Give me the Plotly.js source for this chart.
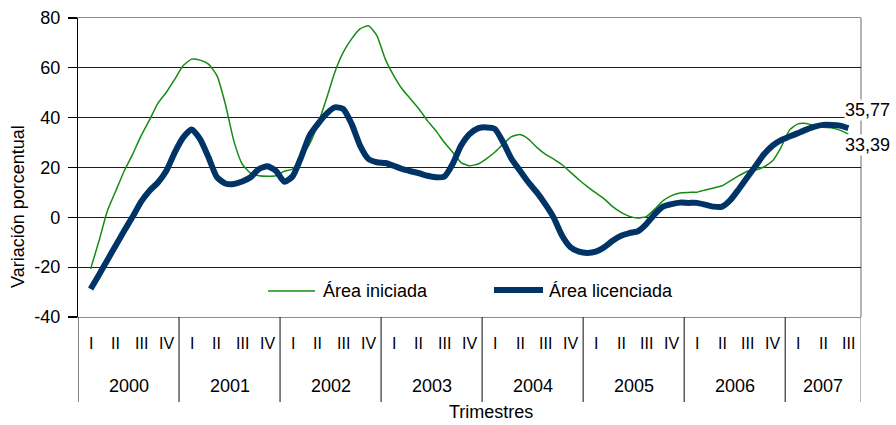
<!DOCTYPE html>
<html>
<head>
<meta charset="utf-8">
<script src="https://cdn.plot.ly/plotly-3.0.1.min.js"></script>
<style>
html,body{margin:0;padding:0;background:#fff;}
#chart{width:896px;height:425px;}
</style>
</head>
<body>
<div id="chart"></div>
<script>
// Tick / category labels
var quarterNames = ['I', 'II', 'III', 'IV'];
var years = ['2000', '2001', '2002', '2003', '2004', '2005', '2006', '2007'];
var quartersPerYear = [4, 4, 4, 4, 4, 4, 4, 3];
var yTicks = [-40, -20, 0, 20, 40, 60, 80];

// Series (monthly readings, Q1 2000 ... Q3 2007), variación porcentual
var areaIniciada = [
  -20.7, -9.4, 2.7, 10.7, 18.7, 25.4, 32.8, 39.1, 45.8, 50.2, 55.5, 60.9,
  63.5, 63.1, 61.5, 56.9, 45.5, 30.8, 21.4, 17.7, 16.7, 16.5, 16.7, 18.5,
  19.4, 24.1, 29.4, 37.5, 47.5, 58.2, 66.2, 71.6, 75.6, 76.9, 72.9, 63.5,
  56.9, 51.5, 47.5, 43.5, 38.8, 34.8, 30.1, 26.1, 22.0, 20.7, 21.4, 23.5,
  26.1, 29.4, 32.4, 33.2, 31.4, 28.1, 25.4, 23.4, 21.1, 18.1, 15.1, 12.3,
  9.8, 7.4, 4.3, 2.0, 0.4, -0.3, 0.3, 3.3, 6.7, 8.7, 9.8, 10.0,
  10.1, 11.0, 11.8, 12.7, 14.7, 16.7, 18.5, 19.0, 20.3, 22.7, 28.1, 35.0,
  37.5, 37.7, 36.8, 36.1, 35.9, 35.0, 33.39
];
var areaLicenciada = [
  -28.8, -23.0, -17.1, -11.2, -5.3, 0.3, 6.3, 10.7, 14.0, 18.7, 26.1, 32.1,
  35.3, 31.4, 24.1, 16.1, 13.6, 13.4, 14.4, 16.1, 19.4, 20.5, 18.7, 14.3,
  16.5, 24.1, 32.8, 37.5, 41.5, 44.1, 43.5, 37.5, 28.8, 23.4, 22.1, 21.8,
  20.7, 19.4, 18.5, 17.7, 16.7, 16.1, 16.3, 21.4, 28.8, 33.4, 35.7, 36.1,
  35.5, 30.1, 23.4, 18.7, 14.0, 10.0, 5.3, -0.1, -7.4, -12.0, -13.8, -14.3,
  -13.8, -12.0, -9.4, -7.4, -6.3, -5.6, -2.7, 1.3, 4.3, 5.3, 5.9, 5.8,
  5.8, 5.1, 4.3, 4.3, 7.0, 11.4, 16.1, 20.7, 25.4, 28.8, 31.0, 32.4,
  33.8, 35.2, 36.4, 37.1, 37.1, 36.8, 35.77
];
var seriesNames = ['Área iniciada', 'Área licenciada'];
var lastLabels = ['33,39', '35,77'];

var GREEN = '#148c14';
var NAVY = '#003366';
var FONT = 'Liberation Sans, Arial, sans-serif';

var xIdx = areaIniciada.map(function (_, i) { return i; });
var nQuarters = quartersPerYear.reduce(function (a, b) { return a + b; }, 0);
var xMin = -1.5, xMax = nQuarters * 3 - 1.5;

var traces = [
  { x: xIdx, y: areaIniciada, type: 'scatter', mode: 'lines', name: seriesNames[0],
    line: { color: GREEN, width: 1.5, shape: 'spline', smoothing: 0.5 }, showlegend: false, hoverinfo: 'x+y' },
  { x: xIdx, y: areaLicenciada, type: 'scatter', mode: 'lines', name: seriesNames[1],
    line: { color: NAVY, width: 6, shape: 'spline', smoothing: 0.6 }, showlegend: false, hoverinfo: 'x+y' }
];

var plotTop = 18, plotBottom = 317, plotLeft = 78, plotRight = 861;
var plotH = plotBottom - plotTop, plotW = plotRight - plotLeft;
function py(px) { return (plotBottom - px) / plotH; }
function pxX(px) { return (px - plotLeft) / plotW; }

var shapes = [];
var annotations = [];

// Right border (gray)
shapes.push({ type: 'line', xref: 'paper', yref: 'paper', x0: 1, x1: 1, y0: 0, y1: 1,
  line: { color: '#8c8c8c', width: 1.3 }, layer: 'below' });

// Category axis: year separators and labels
var qStart = 0;
for (var yi = 0; yi < years.length; yi++) {
  var x0 = qStart * 3 - 1.5;
  shapes.push({ type: 'line', xref: 'x', yref: 'paper', x0: x0, x1: x0, y0: 0, y1: py(402),
    line: { color: '#333', width: 1.2 } });
  for (var q = 0; q < quartersPerYear[yi]; q++) {
    annotations.push({ xref: 'x', yref: 'paper', x: (qStart + q) * 3, y: py(343),
      text: quarterNames[q], showarrow: false, xanchor: 'center', yanchor: 'middle',
      font: { family: FONT, size: 16, color: '#000' } });
  }
  var xEnd = (qStart + quartersPerYear[yi]) * 3 - 1.5;
  annotations.push({ xref: 'x', yref: 'paper', x: (x0 + xEnd) / 2, y: py(386),
    text: years[yi], showarrow: false, xanchor: 'center', yanchor: 'middle',
    font: { family: FONT, size: 18, color: '#000' } });
  qStart += quartersPerYear[yi];
}
shapes.push({ type: 'line', xref: 'x', yref: 'paper', x0: xMax, x1: xMax, y0: 0, y1: py(402),
  line: { color: '#8c8c8c', width: 1.2 } });

// Axis titles
annotations.push({ xref: 'paper', yref: 'paper', x: pxX(491), y: py(412), text: 'Trimestres',
  showarrow: false, xanchor: 'center', yanchor: 'middle', font: { family: FONT, size: 18, color: '#000' } });
annotations.push({ xref: 'paper', yref: 'paper', x: pxX(18), y: py(207), text: 'Variación porcentual',
  textangle: -90, showarrow: false, xanchor: 'center', yanchor: 'middle',
  font: { family: FONT, size: 18, color: '#000' } });

// Legend (inside plot)
shapes.push({ type: 'line', xref: 'paper', yref: 'paper', x0: pxX(268), x1: pxX(315), y0: py(291), y1: py(291),
  line: { color: GREEN, width: 1.5 } });
annotations.push({ xref: 'paper', yref: 'paper', x: pxX(321), y: py(291), text: seriesNames[0],
  showarrow: false, xanchor: 'left', yanchor: 'middle', font: { family: FONT, size: 18, color: '#000' } });
shapes.push({ type: 'line', xref: 'paper', yref: 'paper', x0: pxX(494), x1: pxX(543), y0: py(290), y1: py(290),
  line: { color: NAVY, width: 6 } });
annotations.push({ xref: 'paper', yref: 'paper', x: pxX(547), y: py(291), text: seriesNames[1],
  showarrow: false, xanchor: 'left', yanchor: 'middle', font: { family: FONT, size: 18, color: '#000' } });

// End-value labels
var lastIdx = xIdx.length - 1;
annotations.push({ xref: 'x', yref: 'y', x: xIdx[lastIdx], y: areaLicenciada[lastIdx], text: lastLabels[1],
  showarrow: false, xanchor: 'left', yanchor: 'middle', xshift: -4, yshift: 18, bgcolor: '#fff',
  borderpad: 0, font: { family: FONT, size: 18, color: '#000' } });
annotations.push({ xref: 'x', yref: 'y', x: xIdx[lastIdx], y: areaIniciada[lastIdx], text: lastLabels[0],
  showarrow: false, xanchor: 'left', yanchor: 'middle', xshift: -4, yshift: -11, bgcolor: '#fff',
  borderpad: 0, font: { family: FONT, size: 18, color: '#000' } });

var layout = {
  width: 896, height: 425,
  margin: { l: plotLeft, r: 896 - plotRight, t: plotTop, b: 425 - plotBottom, pad: 0 },
  paper_bgcolor: '#fff', plot_bgcolor: '#fff',
  showlegend: false,
  font: { family: FONT, size: 17, color: '#000' },
  xaxis: {
    range: [xMin, xMax], showticklabels: false, ticks: '', showgrid: false, zeroline: false,
    showline: true, linecolor: '#8c8c8c', linewidth: 1.3, mirror: true, fixedrange: true
  },
  yaxis: {
    range: [-40, 80], tickvals: yTicks, ticktext: yTicks.map(String),
    showgrid: true, gridcolor: '#1e1e1e', gridwidth: 1, zeroline: false,
    showline: true, linecolor: '#000', linewidth: 1.2, ticks: 'outside', ticklen: 9,
    tickcolor: '#000', tickwidth: 1.2, ticklabelstandoff: 4,
    tickfont: { family: FONT, size: 18, color: '#000' }, fixedrange: true
  },
  shapes: shapes,
  annotations: annotations
};

Plotly.newPlot('chart', traces, layout, { displayModeBar: false, staticPlot: true });
</script>
</body>
</html>
